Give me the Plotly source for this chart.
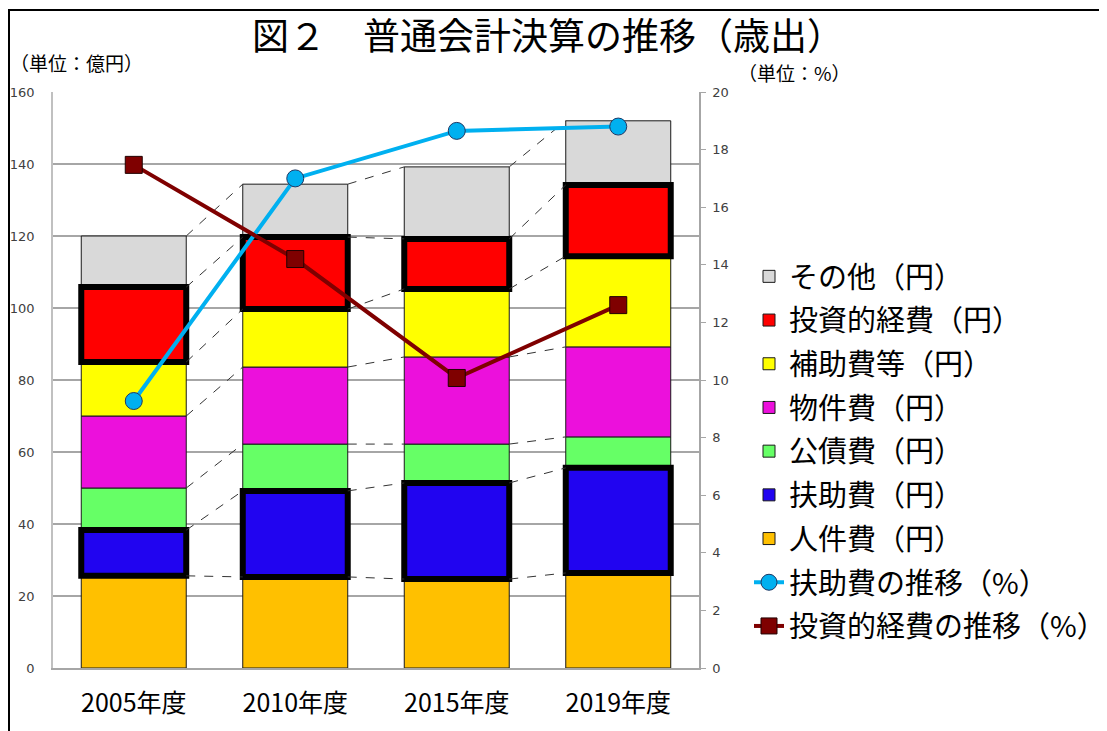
import plotly.graph_objects as go

years = ["2005年度", "2010年度", "2015年度", "2019年度"]
x_pos = [0, 1, 2, 3]

# stacked order bottom -> top (億円)
jinken = [25.6, 25.3, 24.7, 26.4]      # 人件費
fujo = [12.7, 23.9, 26.7, 29.2]        # 扶助費
kousai = [11.7, 13.0, 10.8, 8.6]       # 公債費
bukken = [20.0, 21.4, 24.2, 25.0]      # 物件費
hojo = [15.0, 16.1, 18.9, 25.2]        # 補助費等
toushi = [20.8, 20.0, 13.9, 19.8]      # 投資的経費
sonota = [14.2, 14.7, 20.0, 17.8]      # その他

fujo_pct = [9.27, 17.0, 18.65, 18.8]   # 扶助費の推移（%）
toushi_pct = [17.47, 14.2, 10.07, 12.6]  # 投資的経費の推移（%）

series = [
    ("人件費（円）", jinken, "#FFC000", False),
    ("扶助費（円）", fujo, "#2104F0", True),
    ("公債費（円）", kousai, "#66FF66", False),
    ("物件費（円）", bukken, "#EC10DC", False),
    ("補助費等（円）", hojo, "#FFFF00", False),
    ("投資的経費（円）", toushi, "#FF0000", True),
    ("その他（円）", sonota, "#D9D9D9", False),
]

FONT = "Noto Sans CJK JP"
BW = 0.65

fig = go.Figure()

bases = []
cum = [0.0] * 4
for name, vals, col, thick in series:
    bases.append(list(cum))
    cum = [c + v for c, v in zip(cum, vals)]

# dashed connector lines between bars at each boundary
cx, cy = [], []
running = [0.0] * 4
for name, vals, col, thick in series:
    running = [c + v for c, v in zip(running, vals)]
    for i in range(3):
        cx += [x_pos[i] + BW / 2, x_pos[i + 1] - BW / 2, None]
        cy += [running[i], running[i + 1], None]
fig.add_trace(go.Scatter(x=cx, y=cy, mode="lines", showlegend=False, hoverinfo="skip",
                         line=dict(color="#333333", width=1, dash="dash")))

n = len(series)
for k, (name, vals, col, thick) in enumerate(series):
    fig.add_trace(go.Bar(x=x_pos, y=vals, base=bases[k], name=name, width=BW,
                         marker=dict(color=col, line=dict(color="#1a1a1a", width=1)),
                         legendrank=n - k, legendgroup=name))
for k, (name, vals, col, thick) in enumerate(series):
    if thick:
        fig.add_trace(go.Bar(x=x_pos, y=vals, base=bases[k], width=BW, showlegend=False,
                             hoverinfo="skip",
                             marker=dict(color="rgba(0,0,0,0)", line=dict(color="#000000", width=6))))

fig.add_trace(go.Scatter(x=x_pos, y=fujo_pct, name="扶助費の推移（%）", yaxis="y2",
                         mode="lines+markers", legendrank=20, legendgroup="a",
                         line=dict(color="#00B0F0", width=4),
                         marker=dict(symbol="circle", size=17, color="#00B0F0",
                                     line=dict(color="#1F3864", width=1))))
fig.add_trace(go.Scatter(x=x_pos, y=toushi_pct, name="投資的経費の推移（%）", yaxis="y2",
                         mode="lines+markers", legendrank=21, legendgroup="b",
                         line=dict(color="#7F0000", width=4),
                         marker=dict(symbol="square", size=17, color="#7F0000",
                                     line=dict(color="#200000", width=1))))

OFF = 8  # page body margin
W, H = 1107 - OFF, 731 - OFF
L, T = 53 - OFF, 92 - OFF
pw, ph = 646, 576
R = W - L - pw
B = H - T - ph

def px_x(v):
    return (v - OFF - L) / pw

def px_y(v):
    return (T + ph - (v - OFF)) / ph

fig.update_layout(
    width=W, height=H,
    margin=dict(l=L, r=R, t=T, b=B, autoexpand=False),
    paper_bgcolor="white", plot_bgcolor="white",
    barmode="overlay",
    font=dict(family=FONT, color="#000000"),
    title=dict(text="図２　普通会計決算の推移（歳出）", x=(548 - OFF) / W, xanchor="center",
               y=1 - (37 - OFF) / H, yanchor="middle",
               font=dict(size=37, family=FONT, color="#000")),
    xaxis=dict(range=[-0.5, 3.5], tickvals=x_pos, ticktext=years, showgrid=False,
               showline=True, linecolor="#A6A6A6", linewidth=1.5, ticks="",
               tickfont=dict(size=25, family=FONT, color="#000"), ticklabelstandoff=12,
               zeroline=False, automargin=False),
    yaxis=dict(range=[0, 160], dtick=20, showgrid=True, gridcolor="#A6A6A6", gridwidth=1.5,
               showline=True, linecolor="#C0C0C0", linewidth=1.5, ticks="",
               tickfont=dict(size=13, family="DejaVu Sans", color="#404040"),
               ticklabelstandoff=14, zeroline=False, automargin=False),
    yaxis2=dict(range=[0, 20], dtick=2, overlaying="y", side="right", showgrid=False,
                showline=True, linecolor="#A6A6A6", linewidth=1.5, ticks="outside",
                ticklen=5, tickcolor="#A6A6A6", ticklabelstandoff=4,
                tickfont=dict(size=13, family="DejaVu Sans", color="#404040"),
                zeroline=False, automargin=False),
    legend=dict(x=px_x(749), y=px_y(251), xanchor="left", yanchor="top",
                traceorder="grouped", tracegroupgap=3,
                font=dict(size=29, family=FONT, color="#000"),
                bgcolor="rgba(0,0,0,0)", itemwidth=30),
    showlegend=True,
)

fig.add_annotation(text="（単位：億円）", xref="paper", yref="paper", x=px_x(8), y=px_y(62),
                   xanchor="left", yanchor="middle", showarrow=False,
                   font=dict(size=19, family=FONT, color="#000"))
fig.add_annotation(text="（単位：%）", xref="paper", yref="paper", x=px_x(736), y=px_y(73),
                   xanchor="left", yanchor="middle", showarrow=False,
                   font=dict(size=19, family=FONT, color="#000"))

# outer chart border (partially visible)
fig.add_shape(type="rect", xref="paper", yref="paper",
              x0=px_x(OFF + 1), x1=px_x(1120), y0=px_y(745), y1=px_y(10),
              line=dict(color="#000000", width=2), fillcolor="rgba(0,0,0,0)", layer="below")

fig.write_html("out.html")
